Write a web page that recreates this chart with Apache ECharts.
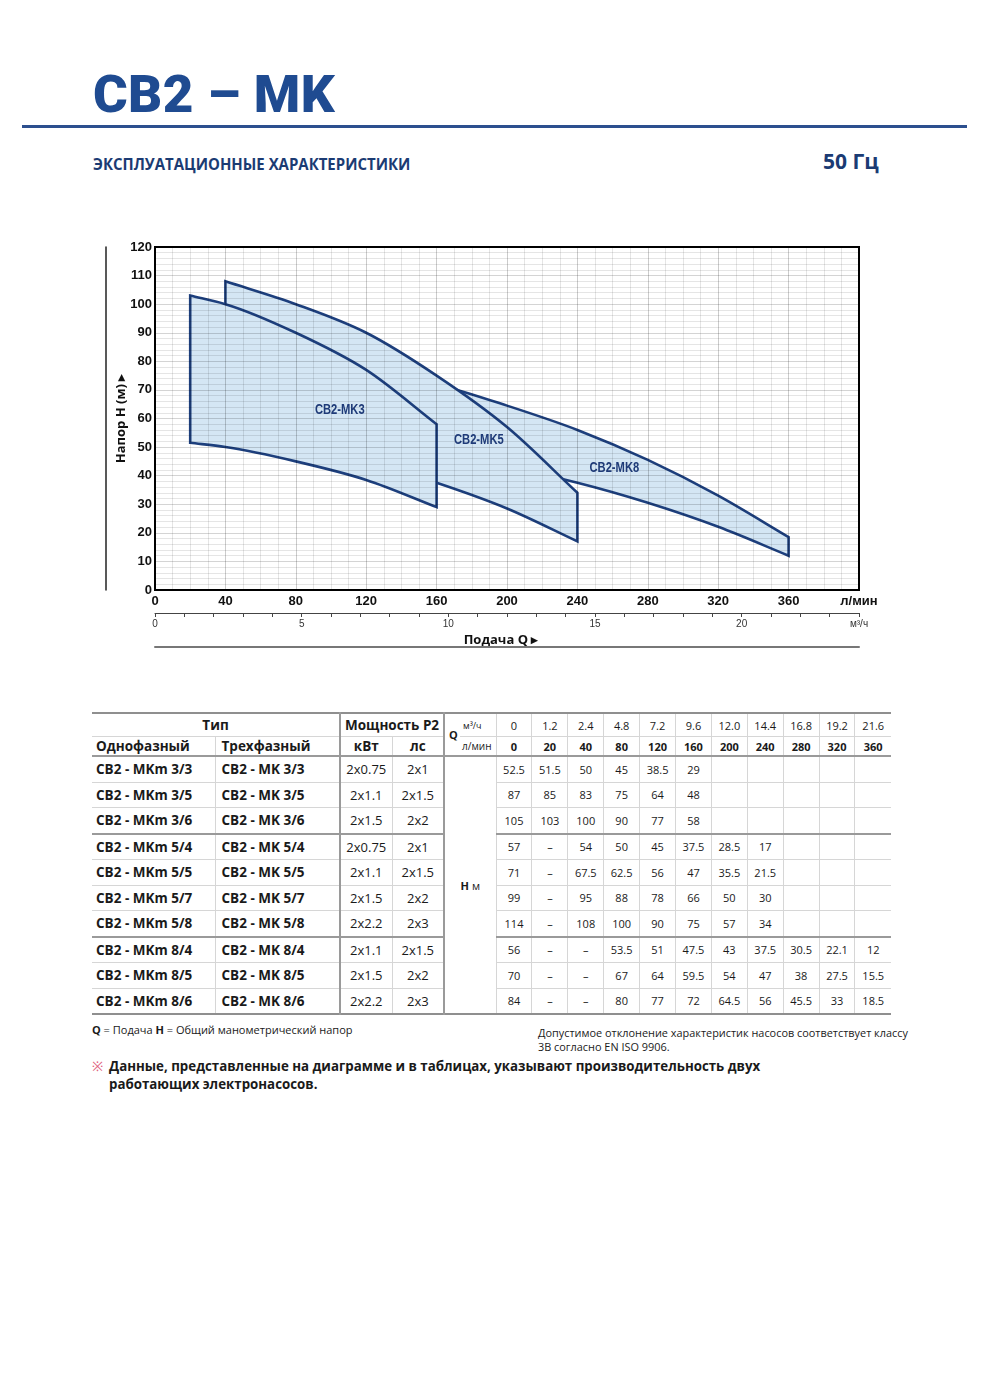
<!DOCTYPE html>
<html>
<head>
<meta charset="utf-8">
<script src="https://cdn.jsdelivr.net/npm/echarts@6/dist/echarts.min.js"></script>
<style>
  body { margin:0; background:#fff; }
  #page { position:relative; width:990px; height:1381px; overflow:hidden; font-family:'Open Sans', sans-serif; color:#1a1a1a; }
  .t1 { position:absolute; left:93px; top:69px; font:900 51px/51px Roboto, 'Liberation Sans', sans-serif; color:#1f4b91; white-space:nowrap; transform:scaleX(1.04); transform-origin:0 0; letter-spacing:0.3px; }
  .rule { position:absolute; left:22px; top:125px; width:945px; height:3px; background:#2c4f8e; }
  .t2 { position:absolute; left:93px; top:156px; font:bold 16px/16px 'Open Sans', sans-serif; color:#1b3b73; white-space:nowrap; transform:scaleX(0.935); transform-origin:0 0; }
  .t3 { position:absolute; left:823px; top:151px; font:bold 21px/21px 'Open Sans', sans-serif; color:#1b3b73; white-space:nowrap; }
  #main { position:absolute; left:0; top:0; width:990px; height:700px; }
  #tbl { position:absolute; left:92px; top:712px; width:799px; border-collapse:collapse; table-layout:fixed; border-top:2px solid #8f8f8f; border-bottom:2px solid #8f8f8f; }
  #tbl td { padding:0; border:1px solid #d6d6d6; text-align:center; white-space:nowrap; overflow:hidden; font-size:11px; }
  #tbl tr.h1 td { height:22px; }
  #tbl tr.h2 td { height:18px; border-bottom:2px solid #9a9a9a; }
  #tbl tr.d td { height:24.5px; }
  #tbl tr.g td { border-bottom:2px solid #9a9a9a; }
  #tbl td.nm { font-weight:bold; font-size:13.5px; text-align:left; padding-left:4px; border-left:none; }
  #tbl td.nm3 { font-weight:bold; font-size:13.5px; text-align:left; padding-left:6px; }
  #tbl td.pw { font-size:13px; }
  #tbl td.hb { font-weight:bold; font-size:13.5px; }
  #tbl td.hv { border-left:2px solid #9a9a9a; }
  #tbl td.last { border-right:none; }
  #tbl td.nb { border-bottom:none; }
  .n1 { position:absolute; left:92px; top:1023px; font-size:11px; line-height:14px; white-space:nowrap; }
  .n2 { position:absolute; left:538px; top:1026px; font-size:10.9px; line-height:14px; white-space:nowrap; }
  .n3 { position:absolute; left:109px; top:1057px; font-size:13.3px; line-height:18px; font-weight:bold; white-space:nowrap; }
  .n3 .mark { position:absolute; left:-17px; top:0; color:#e0607e; font-weight:normal; }
</style>
</head>
<body>
<div id="page">
  <div class="t1">CB2 – MK</div>
  <div class="rule"></div>
  <div class="t2">ЭКСПЛУАТАЦИОННЫЕ ХАРАКТЕРИСТИКИ</div>
  <div class="t3">50 Гц</div>
  <div id="main"></div>
  <table id="tbl"></table>
  <div class="n1"><b>Q</b> = Подача <b>H</b> = Общий манометрический напор</div>
  <div class="n2">Допустимое отклонение характеристик насосов соответствует классу<br>3B согласно EN ISO 9906.</div>
  <div class="n3"><span class="mark">※</span>Данные, представленные на диаграмме и в таблицах, указывают производительность двух<br>работающих электронасосов.</div>
</div>
<script type="text/javascript">
  // подача
  var qM3h = ['0', '1.2', '2.4', '4.8', '7.2', '9.6', '12.0', '14.4', '16.8', '19.2', '21.6'];
  var qLmin = [0, 20, 40, 80, 120, 160, 200, 240, 280, 320, 360];
  // модели
  var models1 = ['CB2 - MKm 3/3', 'CB2 - MKm 3/5', 'CB2 - MKm 3/6', 'CB2 - MKm 5/4', 'CB2 - MKm 5/5',
                 'CB2 - MKm 5/7', 'CB2 - MKm 5/8', 'CB2 - MKm 8/4', 'CB2 - MKm 8/5', 'CB2 - MKm 8/6'];
  var models3 = ['CB2 - MK 3/3', 'CB2 - MK 3/5', 'CB2 - MK 3/6', 'CB2 - MK 5/4', 'CB2 - MK 5/5',
                 'CB2 - MK 5/7', 'CB2 - MK 5/8', 'CB2 - MK 8/4', 'CB2 - MK 8/5', 'CB2 - MK 8/6'];
  var powerKw = ['2x0.75', '2x1.1', '2x1.5', '2x0.75', '2x1.1', '2x1.5', '2x2.2', '2x1.1', '2x1.5', '2x2.2'];
  var powerHp = ['2x1', '2x1.5', '2x2', '2x1', '2x1.5', '2x2', '2x3', '2x1.5', '2x2', '2x3'];
  // напор H, м  (null = «–»)
  var head = [
    [52.5, 51.5, 50, 45, 38.5, 29],
    [87, 85, 83, 75, 64, 48],
    [105, 103, 100, 90, 77, 58],
    [57, null, 54, 50, 45, 37.5, 28.5, 17],
    [71, null, 67.5, 62.5, 56, 47, 35.5, 21.5],
    [99, null, 95, 88, 78, 66, 50, 30],
    [114, null, 108, 100, 90, 75, 57, 34],
    [56, null, null, 53.5, 51, 47.5, 43, 37.5, 30.5, 22.1, 12],
    [70, null, null, 67, 64, 59.5, 54, 47, 38, 27.5, 15.5],
    [84, null, null, 80, 77, 72, 64.5, 56, 45.5, 33, 18.5]
  ];
  // поля: верхняя и нижняя кривая (строки head), начало (индекс qLmin)
  var regionNames = ['CB2-MK8', 'CB2-MK5', 'CB2-MK3'];
  var regionTop = [9, 6, 2];
  var regionBottom = [7, 3, 0];
  var regionFrom = [3, 2, 1];
  var regionLabelAt = [[261, 42.7], [184, 52.5], [105, 63]];

  function curvePoints(row, from) {
    var pts = [];
    for (var i = from; i < head[row].length; i++) {
      if (head[row][i] != null) pts.push([qLmin[i], head[row][i]]);
    }
    return pts;
  }
  // гладкая кривая через точки (кубический Эрмит по x)
  function bezier(p) {
    var n = p.length, s = [], hh = [], m = [], d = '', i;
    for (i = 0; i < n - 1; i++) {
      hh.push(p[i + 1][0] - p[i][0]);
      s.push((p[i + 1][1] - p[i][1]) / hh[i]);
    }
    for (i = 0; i < n; i++) {
      if (i === 0) m.push(s[0]);
      else if (i === n - 1) m.push(s[n - 2]);
      else m.push((s[i - 1] * hh[i] + s[i] * hh[i - 1]) / (hh[i - 1] + hh[i]));
    }
    for (i = 0; i < n - 1; i++) {
      var dx = hh[i];
      d += ' C' + [p[i][0] + dx / 3, p[i][1] + m[i] * dx / 3,
                   p[i + 1][0] - dx / 3, p[i + 1][1] - m[i + 1] * dx / 3,
                   p[i + 1][0], p[i + 1][1]].join(',');
    }
    return d;
  }

  var axisFont = "'Liberation Sans',Arial,sans-serif";
  var myChart = echarts.init(document.getElementById('main'));
  var option = {
    animation: false,
    grid: { left: 155, right: 131, top: 247, bottom: 110, show: true, borderColor: '#000', borderWidth: 2, z: 3 },
    xAxis: [
      {
        type: 'value', min: 0, max: 400, interval: 40, position: 'bottom', z: 2,
        axisLine: { show: true, onZero: false, lineStyle: { color: '#000', width: 2 } },
        axisTick: { show: false },
        axisLabel: {
          margin: 5, fontSize: 13, fontWeight: 'bold', color: '#111', fontFamily: axisFont,
          showMinLabel: true, showMaxLabel: true,
          formatter: function (v) { return v === 400 ? 'л/мин' : v; }
        },
        splitLine: { show: true, lineStyle: { color: 'rgba(0,0,0,0.2)', width: 1 } },
        minorTick: { show: false, splitNumber: 4 },
        minorSplitLine: { show: true, lineStyle: { color: 'rgba(0,0,0,0.1)', width: 1 } }
      },
      {
        type: 'value', min: 0, max: 24, interval: 1, position: 'bottom', offset: 23, z: 2,
        axisLine: { show: true, onZero: false, lineStyle: { color: '#444', width: 1 } },
        axisTick: { show: true, inside: false, length: 4, lineStyle: { color: '#444', width: 1 } },
        axisLabel: {
          margin: 6, fontSize: 10, color: '#333', fontFamily: axisFont,
          showMinLabel: true, showMaxLabel: true,
          formatter: function (v) { return v === 24 ? 'м³/ч' : (v % 5 === 0 ? v : ''); }
        },
        splitLine: { show: false },
        name: 'Подача Q ▸', nameLocation: 'middle', nameGap: 21,
        nameTextStyle: { fontSize: 13, fontWeight: 'bold', color: '#111', fontFamily: 'Open Sans', padding: [0, 12, 0, 0] }
      },
      {
        type: 'value', min: 0, max: 400, position: 'bottom', offset: 57, z: 2,
        axisLine: { show: true, onZero: false, lineStyle: { color: '#777', width: 2 } },
        axisTick: { show: false }, axisLabel: { show: false }, splitLine: { show: false }
      }
    ],
    yAxis: [
      {
        type: 'value', min: 0, max: 120, interval: 10, position: 'left', z: 2,
        axisLine: { show: true, onZero: false, lineStyle: { color: '#000', width: 2 } },
        axisTick: { show: false },
        axisLabel: { margin: 3, fontSize: 13, fontWeight: 'bold', color: '#111', fontFamily: axisFont },
        splitLine: { show: true, lineStyle: { color: 'rgba(0,0,0,0.17)', width: 1 } },
        minorTick: { show: false, splitNumber: 5 },
        minorSplitLine: { show: true, lineStyle: { color: 'rgba(0,0,0,0.1)', width: 1 } },
        name: 'Напор H (м) ▸', nameLocation: 'middle', nameGap: 27, nameRotate: 90, nameMoveOverlap: false,
        nameTextStyle: { fontSize: 13, fontWeight: 'bold', color: '#111', fontFamily: 'Open Sans' }
      },
      {
        type: 'value', min: 0, max: 120, position: 'left', offset: 49, z: 2,
        axisLine: { show: true, onZero: false, lineStyle: { color: '#222', width: 1.5 } },
        axisTick: { show: false }, axisLabel: { show: false }, splitLine: { show: false }
      }
    ],
    series: [
      {
        type: 'custom', name: 'поля', z: 1, clip: false,
        data: regionNames.map(function (n, i) {
          return [qLmin[regionFrom[i]], head[regionTop[i]][regionFrom[i]]];
        }),
        renderItem: function (params, api) {
          var i = params.dataIndex;
          var top = curvePoints(regionTop[i], regionFrom[i]).map(function (p) { return api.coord(p); });
          var bot = curvePoints(regionBottom[i], regionFrom[i]).map(function (p) { return api.coord(p); }).reverse();
          var d = 'M' + top[0].join(',') + bezier(top) + ' L' + bot[0].join(',') + bezier(bot) + ' Z';
          return {
            type: 'path',
            shape: { pathData: d },
            style: { fill: '#d4e6f4', stroke: '#1d3f7d', lineWidth: 2.6, lineJoin: 'miter' }
          };
        }
      },
      {
        type: 'custom', name: 'подписи', z: 4, clip: false,
        data: regionLabelAt,
        renderItem: function (params, api) {
          var c = api.coord([api.value(0), api.value(1)]);
          return {
            type: 'text', x: c[0], y: c[1], scaleX: 0.8,
            style: {
              text: regionNames[params.dataIndex], fill: '#1f3b78',
              font: 'bold 14px ' + axisFont, align: 'center', verticalAlign: 'middle'
            }
          };
        }
      }
    ]
  };
  myChart.setOption(option);

  // таблица
  var h = '<colgroup><col style="width:123px"><col style="width:125px"><col style="width:52px"><col style="width:52px">' +
          '<col style="width:16px"><col style="width:36px">';
  for (var c = 0; c < qLmin.length; c++) h += '<col style="width:35.9px">';
  h += '</colgroup>';
  h += '<tr class="h1"><td colspan="2" class="hb nb" style="border-left:none">Тип</td>' +
       '<td colspan="2" class="hb nb hv">Мощность P2</td>' +
       '<td rowspan="2" class="hv" style="border-right:none;text-align:left;padding-left:4px;font-weight:bold;border-bottom:2px solid #9a9a9a">Q</td>' +
       '<td style="border-left:none;text-align:left;padding-left:3px;font-size:9px">м³/ч</td>';
  for (c = 0; c < qM3h.length; c++) h += '<td' + (c === qM3h.length - 1 ? ' class="last"' : '') + '>' + qM3h[c] + '</td>';
  h += '</tr><tr class="h2"><td class="nm">Однофазный</td><td class="nm3">Трехфазный</td>' +
       '<td class="hb hv">кВт</td><td class="hb">лс</td>' +
       '<td style="border-left:none;text-align:left;padding-left:2px;font-size:10px">л/мин</td>';
  for (c = 0; c < qLmin.length; c++) h += '<td style="font-weight:bold"' + (c === qLmin.length - 1 ? ' class="last"' : '') + '>' + qLmin[c] + '</td>';
  h += '</tr>';
  for (var r = 0; r < models1.length; r++) {
    h += '<tr class="d' + (r === 2 || r === 6 ? ' g' : '') + '">' +
         '<td class="nm">' + models1[r] + '</td><td class="nm3">' + models3[r] + '</td>' +
         '<td class="pw hv">' + powerKw[r] + '</td><td class="pw">' + powerHp[r] + '</td>';
    if (r === 0) h += '<td colspan="2" rowspan="' + models1.length + '" class="hv"><b>H</b> м</td>';
    for (c = 0; c < qLmin.length; c++) {
      var v = head[r][c];
      var txt = c < head[r].length ? (v == null ? '–' : v) : '';
      h += '<td' + (c === qLmin.length - 1 ? ' class="last"' : '') + '>' + txt + '</td>';
    }
    h += '</tr>';
  }
  document.getElementById('tbl').innerHTML = h;
</script>
</body>
</html>
